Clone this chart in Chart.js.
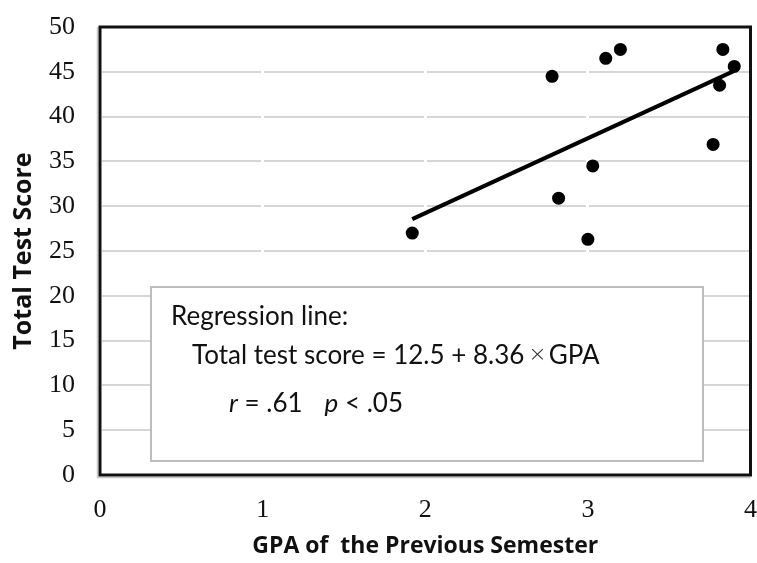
<!DOCTYPE html>
<html>
<head>
<meta charset="utf-8">
<script src="https://cdn.jsdelivr.net/npm/chart.js@4/dist/chart.umd.min.js"></script>
<style>
  html, body { margin: 0; padding: 0; background: #fff; }
  #wrap { width: 757px; height: 563px; }
</style>
</head>
<body>
<div id="wrap"><canvas id="c" width="757" height="563"></canvas></div>
<script>
// Previous-semester GPA and total test score for each student
const gpa   = [1.92, 2.78, 2.82, 3.00, 3.03, 3.11, 3.20, 3.77, 3.81, 3.83, 3.90];
const score = [27.0, 44.5, 30.9, 26.3, 34.5, 46.5, 47.5, 36.9, 43.5, 47.5, 45.6];

// Fitted regression: score = intercept + slope * GPA
const intercept = 12.5;
const slope = 8.36;
const rValue = ".61";
const pText = "< .05";

// Axis ticks
const xTicks = [0, 1, 2, 3, 4];
const yTicks = [0, 5, 10, 15, 20, 25, 30, 35, 40, 45, 50];

const xTitle = "GPA of  the Previous Semester";
const yTitle = "Total Test Score";

const points = gpa.map((g, i) => ({ x: g, y: score[i] }));
const xMin = Math.min(...gpa), xMax = Math.max(...gpa);
const fitLine = [xMin, xMax].map(g => ({ x: g, y: intercept + slope * g }));

// keep the plot area fixed: no extra room reserved for overhanging tick labels
function noScalePadding(s) {
  s.paddingTop = 0; s.paddingBottom = 0; s.paddingLeft = 0; s.paddingRight = 0;
}

// Plot frame and the regression-summary box
const framePlugin = {
  id: 'frame',
  beforeDatasetsDraw(chart) {
    const { ctx, chartArea: a } = chart;
    ctx.save();
    // soft shadow lines outside the frame
    ctx.strokeStyle = '#c8c8c8';
    ctx.lineWidth = 1.5;
    ctx.beginPath();
    ctx.moveTo(a.left - 2.5, a.top);
    ctx.lineTo(a.left - 2.5, a.bottom + 2.5);
    ctx.lineTo(a.right, a.bottom + 2.5);
    ctx.stroke();
    // summary box
    const bx = a.left + 51, by = a.top + 260, bw = 552, bh = 174;
    ctx.fillStyle = '#fff';
    ctx.fillRect(bx, by, bw, bh);
    ctx.strokeStyle = '#bdbdbd';
    ctx.lineWidth = 2;
    ctx.strokeRect(bx, by, bw, bh);

    ctx.fillStyle = '#111';
    ctx.textBaseline = 'alphabetic';
    ctx.textAlign = 'left';
    const reg = '26px Lato';
    const ita = 'italic 26px Lato';
    ctx.font = reg;
    ctx.fillText('Regression line:', bx + 20, by + 38);

    let x = bx + 41;
    const y2 = by + 77;
    const part1 = 'Total test score = ' + intercept + ' + ' + slope.toFixed(2);
    ctx.fillText(part1, x, y2);
    x += ctx.measureText(part1).width + 4;
    ctx.font = '300 22px "DejaVu Sans"';
    ctx.fillStyle = '#333';
    ctx.fillText('\u00D7', x, y2 - 3);
    x += ctx.measureText('\u00D7').width + 2;
    ctx.fillStyle = '#111';
    ctx.font = reg;
    ctx.fillText('GPA', x, y2);

    const y3 = by + 125;
    x = bx + 78;
    ctx.font = ita;
    ctx.fillText('r', x, y3);
    x += ctx.measureText('r').width;
    ctx.font = reg;
    const rs = ' = ' + rValue;
    ctx.fillText(rs, x, y3);
    x += ctx.measureText(rs).width + 22;
    ctx.font = ita;
    ctx.fillText('p', x, y3);
    x += ctx.measureText('p').width;
    ctx.font = reg;
    ctx.fillText(' ' + pText, x, y3);
    ctx.restore();
  },
  afterDraw(chart) {
    const { ctx, chartArea: a } = chart;
    ctx.save();
    ctx.strokeStyle = '#111';
    ctx.lineWidth = 3;
    ctx.strokeRect(a.left, a.top, a.right - a.left, a.bottom - a.top);
    ctx.restore();
  }
};

new Chart(document.getElementById('c'), {
  data: {
    datasets: [
      {
        type: 'scatter',
        data: points,
        backgroundColor: '#000',
        borderWidth: 0,
        pointRadius: 6.5,
        pointHoverRadius: 6.5
      },
      {
        type: 'line',
        data: fitLine,
        borderColor: '#000',
        borderWidth: 4,
        pointRadius: 0,
        fill: false,
        tension: 0
      }
    ]
  },
  options: {
    responsive: false,
    animation: false,
    events: [],
    layout: { padding: { left: 0, right: 6, top: 27, bottom: 0 } },
    plugins: { legend: { display: false }, tooltip: { enabled: false } },
    scales: {
      y: {
        type: 'linear',
        min: 0, max: 50,
        afterBuildTicks(s) { s.ticks = yTicks.map(v => ({ value: v })); },
        afterFit(s) { s.width = 100; noScalePadding(s); },
        grid: { color: '#d6d6d6', lineWidth: 2, drawTicks: false, z: -2 },
        border: { display: false },
        ticks: { font: { family: 'Liberation Serif', size: 26 }, color: '#111', padding: 25 },
        title: { display: true, text: yTitle, color: '#111',
                 font: { family: 'Open Sans', size: 25, weight: 'bold' }, padding: { top: 9, bottom: 0 } }
      },
      x: {
        type: 'linear',
        min: 0, max: 4,
        afterBuildTicks(s) { s.ticks = xTicks.map(v => ({ value: v })); },
        afterFit(s) { s.height = 88; noScalePadding(s); },
        grid: { color: '#fff', lineWidth: 3, drawTicks: false, z: -1 },
        border: { display: false },
        ticks: { font: { family: 'Liberation Serif', size: 26 }, color: '#111', padding: 20 },
        title: { display: true, text: xTitle, color: '#111',
                 font: { family: 'Open Sans', size: 23, weight: 'bold' }, padding: { top: 0, bottom: 3 } }
      }
    }
  },
  plugins: [framePlugin]
});
</script>
</body>
</html>
